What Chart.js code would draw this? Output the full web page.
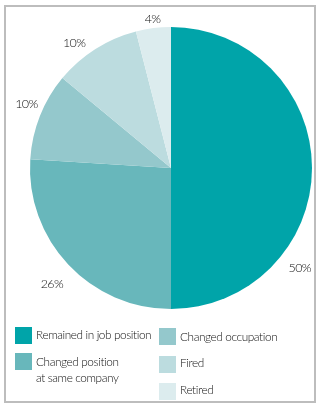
<!DOCTYPE html>
<html>
<head>
<meta charset="utf-8">
<script src="https://cdn.jsdelivr.net/npm/chart.js@4/dist/chart.umd.min.js"></script>
<style>
  html, body { margin: 0; padding: 0; background: #fff; }
  #wrap { position: relative; width: 321px; height: 408px; overflow: hidden; }
  #frame { position: absolute; left: 4px; top: 5px; width: 308px; height: 394px; border: 2px solid #bdbdbd; }
  canvas { position: absolute; left: 0; top: 0; }
  .item { position: absolute; font-family: Lato, "Open Sans", sans-serif; font-weight: 300; font-size: 11.8px; color: #111; line-height: 16px; letter-spacing: -0.4px; white-space: pre-line; }
  .sw { position: absolute; width: 17px; height: 17px; }
</style>
</head>
<body>
<div id="wrap">
  <div id="frame"></div>
  <canvas id="c" width="321" height="408"></canvas>
  <div id="legend"></div>
</div>
<script>
// ---- data ----
const categories = ["Remained in job position", "Changed position\nat same company", "Changed occupation", "Fired", "Retired"];
const values = [50, 26, 10, 10, 4];
const valueLabels = ["50%", "26%", "10%", "10%", "4%"];
const colors = ["#00a4a9", "#68b7bb", "#94c8cc", "#bcdcdf", "#dcecee"];

// ---- layout (not data) ----
const labelAngleFrac = [0.71, 0.49, 0.56, 0.35, 0.51];
const labelDist = [22, 25, 17, 17, 9];
const legendPos = [
  {sx: 15, sy: 327, tx: 36, ty: 327},
  {sx: 15, sy: 353, tx: 36, ty: 354},
  {sx: 159, sy: 328, tx: 180, ty: 329},
  {sx: 159, sy: 356, tx: 180, ty: 355},
  {sx: 159, sy: 383, tx: 180, ty: 382}
];

const labelPlugin = {
  id: 'outLabels',
  afterDatasetsDraw(chart) {
    const ctx = chart.ctx;
    const meta = chart.getDatasetMeta(0);
    ctx.save();
    ctx.font = '300 12.5px Lato, "Open Sans", sans-serif';
    if ('letterSpacing' in ctx) ctx.letterSpacing = '-0.6px';
    ctx.fillStyle = '#111';
    ctx.textAlign = 'center';
    ctx.textBaseline = 'middle';
    meta.data.forEach((arc, i) => {
      const p = arc.getProps(['x', 'y', 'startAngle', 'endAngle', 'outerRadius'], true);
      const a = p.startAngle + labelAngleFrac[i] * (p.endAngle - p.startAngle);
      const d = p.outerRadius + labelDist[i];
      ctx.fillText(valueLabels[i], p.x + Math.cos(a) * d, p.y + Math.sin(a) * d);
    });
    ctx.restore();
  }
};

new Chart(document.getElementById('c'), {
  type: 'pie',
  data: {
    labels: categories,
    datasets: [{ data: values, backgroundColor: colors, borderWidth: 0 }]
  },
  options: {
    responsive: false,
    animation: false,
    devicePixelRatio: 1,
    layout: { padding: { left: 30, top: 27, right: 9, bottom: 99 } },
    plugins: { legend: { display: false }, tooltip: { enabled: false } }
  },
  plugins: [labelPlugin]
});

const legend = document.getElementById('legend');
categories.forEach((c, i) => {
  const p = legendPos[i];
  const sw = document.createElement('div');
  sw.className = 'sw';
  sw.style.left = p.sx + 'px'; sw.style.top = p.sy + 'px';
  sw.style.background = colors[i];
  legend.appendChild(sw);
  const t = document.createElement('div');
  t.className = 'item';
  t.style.left = p.tx + 'px'; t.style.top = p.ty + 'px';
  t.textContent = c;
  legend.appendChild(t);
});
</script>
</body>
</html>
